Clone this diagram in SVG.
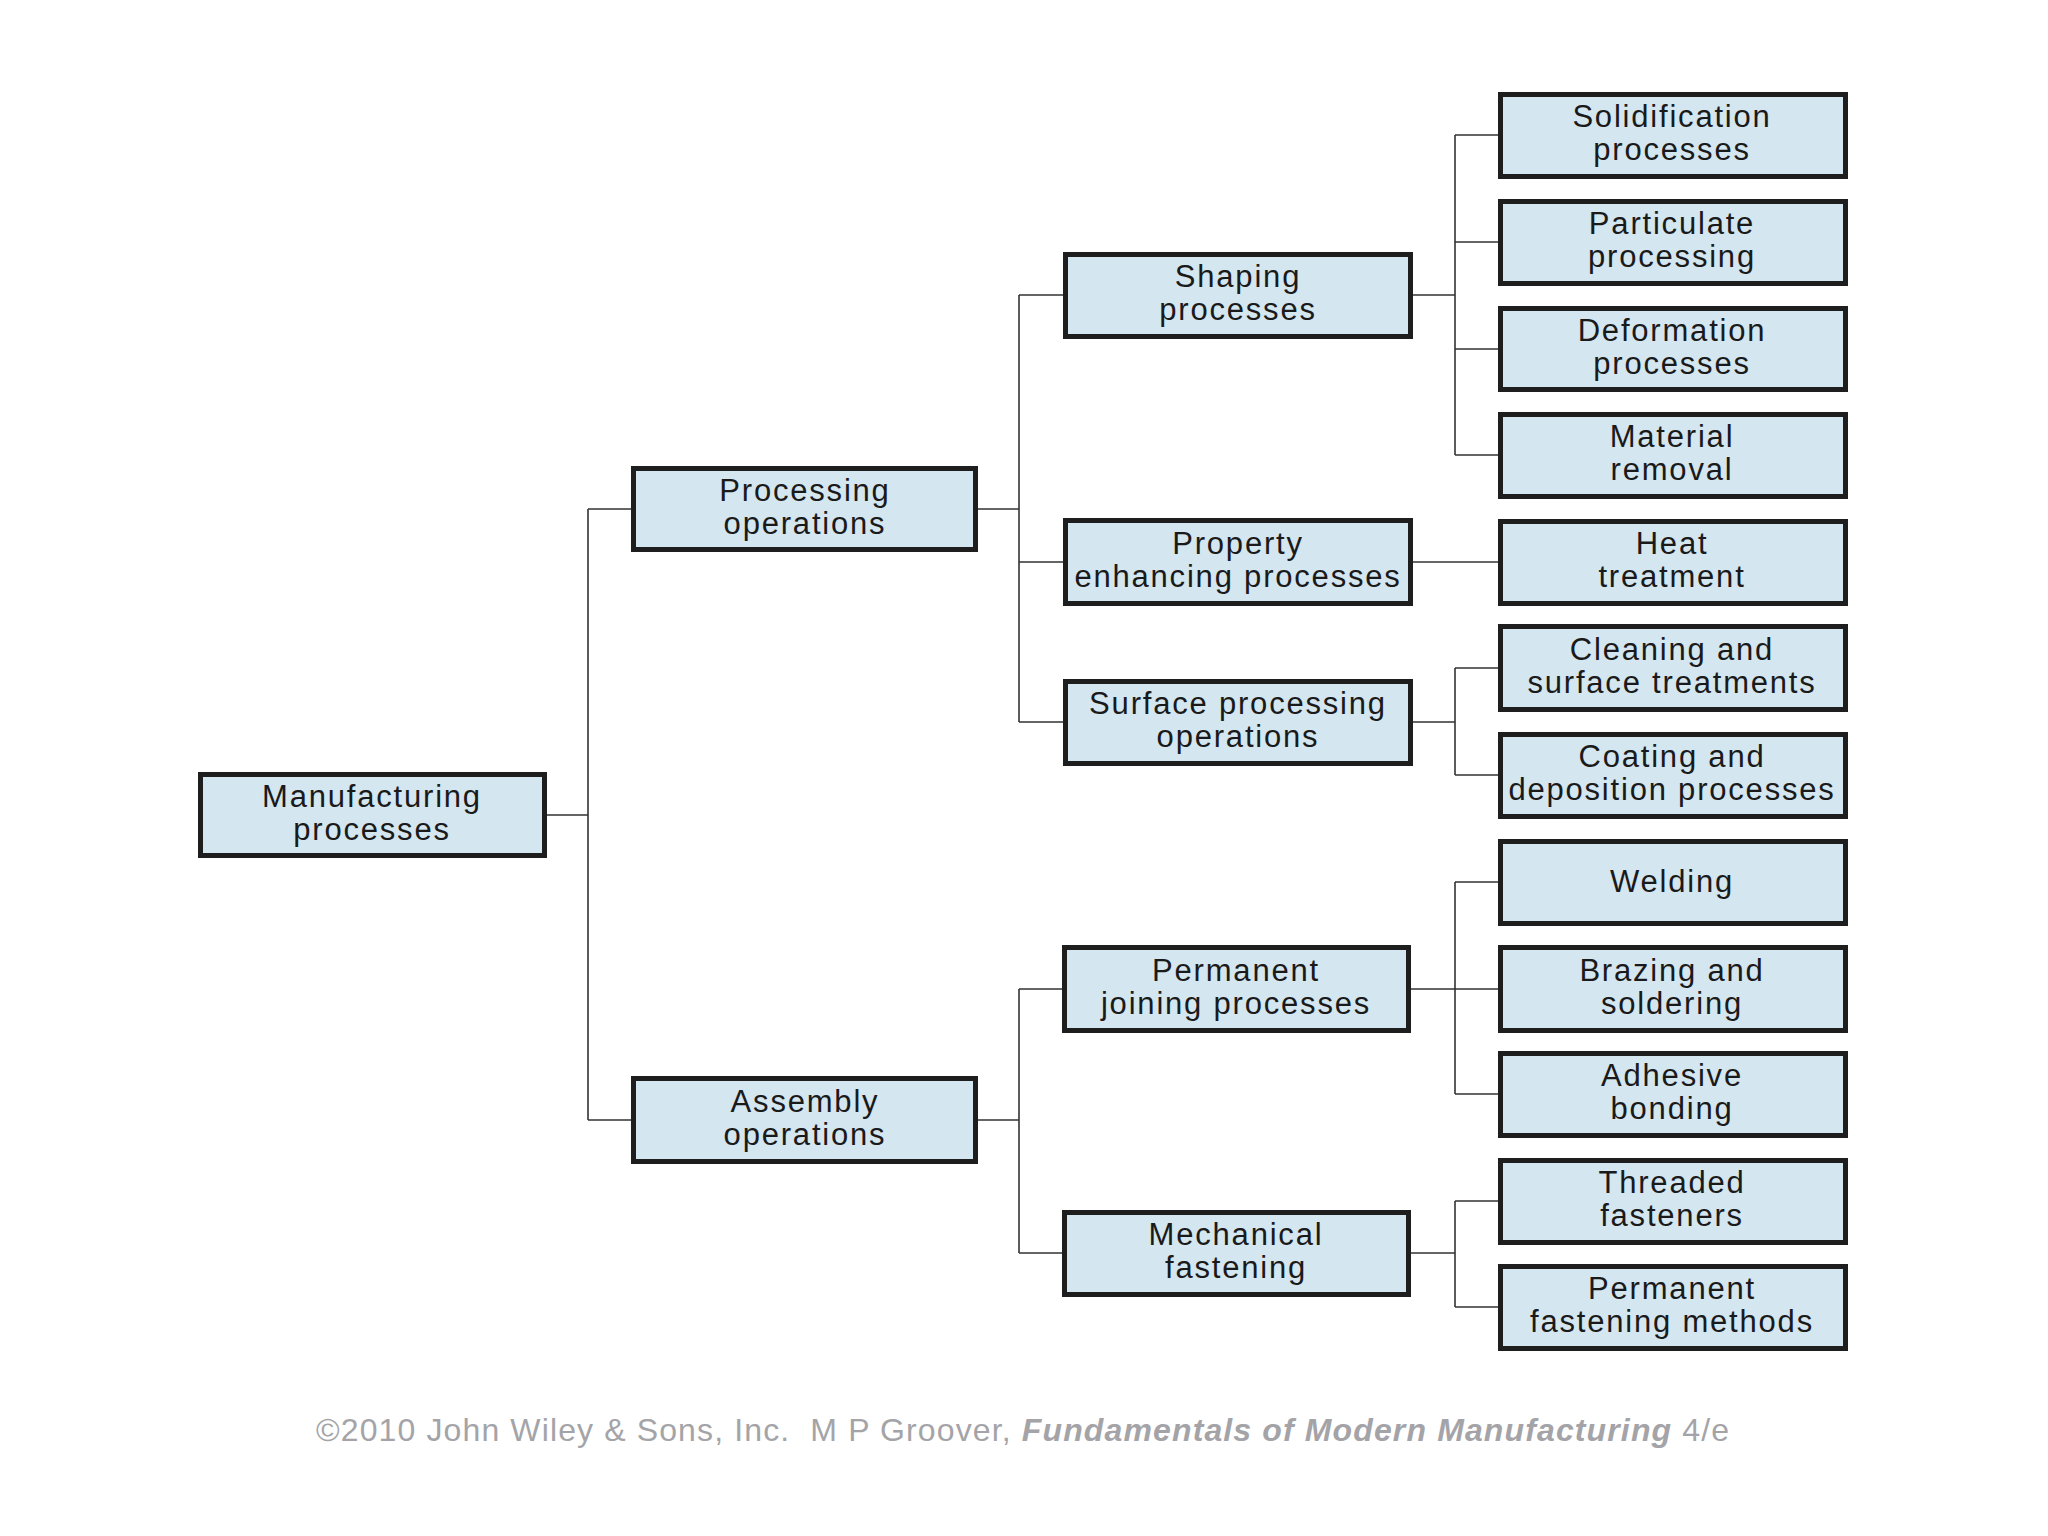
<svg xmlns="http://www.w3.org/2000/svg" width="2048" height="1536" viewBox="0 0 2048 1536">
<style>
.box{fill:#d4e6f0;stroke:#1e1e1e;stroke-width:5}
.t{font-family:"Liberation Sans",Arial,sans-serif;font-size:31px;fill:#1a1a1a;text-anchor:middle;letter-spacing:1.8px}
.c{fill:none;stroke:#333;stroke-width:1.6}
.f{font-family:"Liberation Sans",Arial,sans-serif;font-size:32px;fill:#a4a4a8}
</style>
<rect width="2048" height="1536" fill="#ffffff"/>
<g id="connectors">
<path class="c" d="M547,815H588M588,509V1120M588,509H631M588,1120H631"/>
<path class="c" d="M978,509H1019M1019,295V722M1019,295H1063M1019,562H1063M1019,722H1063"/>
<path class="c" d="M978,1120H1019M1019,989V1253M1019,989H1062M1019,1253H1062"/>
<path class="c" d="M1413,295H1455M1455,135V455M1455,135H1498M1455,242H1498M1455,349H1498M1455,455H1498"/>
<path class="c" d="M1413,562H1498"/>
<path class="c" d="M1413,722H1455M1455,668V775M1455,668H1498M1455,775H1498"/>
<path class="c" d="M1411,989H1455M1455,882V1094M1455,882H1498M1455,989H1498M1455,1094H1498"/>
<path class="c" d="M1411,1253H1455M1455,1201V1307M1455,1201H1498M1455,1307H1498"/>
</g>
<g id="n-manufacturing"><rect class="box" x="200.5" y="774.5" width="344" height="81"/><text class="t" x="372" y="807">Manufacturing</text><text class="t" x="372" y="840">processes</text></g>
<g id="n-processing"><rect class="box" x="633.5" y="468.5" width="342" height="81"/><text class="t" x="805" y="501">Processing</text><text class="t" x="805" y="534">operations</text></g>
<g id="n-assembly"><rect class="box" x="633.5" y="1078.5" width="342" height="83"/><text class="t" x="805" y="1112">Assembly</text><text class="t" x="805" y="1145">operations</text></g>
<g id="n-shaping"><rect class="box" x="1065.5" y="254.5" width="345" height="82"/><text class="t" x="1238" y="287">Shaping</text><text class="t" x="1238" y="320">processes</text></g>
<g id="n-property"><rect class="box" x="1065.5" y="520.5" width="345" height="83"/><text class="t" x="1238" y="554">Property</text><text class="t" x="1238" y="587">enhancing processes</text></g>
<g id="n-surface"><rect class="box" x="1065.5" y="681.5" width="345" height="82"/><text class="t" x="1238" y="714">Surface processing</text><text class="t" x="1238" y="747">operations</text></g>
<g id="n-permjoin"><rect class="box" x="1064.5" y="947.5" width="344" height="83"/><text class="t" x="1236" y="981">Permanent</text><text class="t" x="1236" y="1014">joining processes</text></g>
<g id="n-mechanical"><rect class="box" x="1064.5" y="1212.5" width="344" height="82"/><text class="t" x="1236" y="1245">Mechanical</text><text class="t" x="1236" y="1278">fastening</text></g>
<g id="n-solidification"><rect class="box" x="1500.5" y="94.5" width="345" height="82"/><text class="t" x="1672" y="127">Solidification</text><text class="t" x="1672" y="160">processes</text></g>
<g id="n-particulate"><rect class="box" x="1500.5" y="201.5" width="345" height="82"/><text class="t" x="1672" y="234">Particulate</text><text class="t" x="1672" y="267">processing</text></g>
<g id="n-deformation"><rect class="box" x="1500.5" y="308.5" width="345" height="81"/><text class="t" x="1672" y="341">Deformation</text><text class="t" x="1672" y="374">processes</text></g>
<g id="n-material"><rect class="box" x="1500.5" y="414.5" width="345" height="82"/><text class="t" x="1672" y="447">Material</text><text class="t" x="1672" y="480">removal</text></g>
<g id="n-heat"><rect class="box" x="1500.5" y="521.5" width="345" height="82"/><text class="t" x="1672" y="554">Heat</text><text class="t" x="1672" y="587">treatment</text></g>
<g id="n-cleaning"><rect class="box" x="1500.5" y="626.5" width="345" height="83"/><text class="t" x="1672" y="660">Cleaning and</text><text class="t" x="1672" y="693">surface treatments</text></g>
<g id="n-coating"><rect class="box" x="1500.5" y="734.5" width="345" height="82"/><text class="t" x="1672" y="767">Coating and</text><text class="t" x="1672" y="800">deposition processes</text></g>
<g id="n-welding"><rect class="box" x="1500.5" y="841.5" width="345" height="82"/><text class="t" x="1672" y="892">Welding</text></g>
<g id="n-brazing"><rect class="box" x="1500.5" y="947.5" width="345" height="83"/><text class="t" x="1672" y="981">Brazing and</text><text class="t" x="1672" y="1014">soldering</text></g>
<g id="n-adhesive"><rect class="box" x="1500.5" y="1053.5" width="345" height="82"/><text class="t" x="1672" y="1086">Adhesive</text><text class="t" x="1672" y="1119">bonding</text></g>
<g id="n-threaded"><rect class="box" x="1500.5" y="1160.5" width="345" height="82"/><text class="t" x="1672" y="1193">Threaded</text><text class="t" x="1672" y="1226">fasteners</text></g>
<g id="n-permfast"><rect class="box" x="1500.5" y="1266.5" width="345" height="82"/><text class="t" x="1672" y="1299">Permanent</text><text class="t" x="1672" y="1332">fastening methods</text></g>
<text class="f" x="316" y="1441" textLength="1413" lengthAdjust="spacing" xml:space="preserve">©2010 John Wiley &amp; Sons, Inc.  M P Groover, <tspan font-weight="bold" font-style="italic">Fundamentals of Modern Manufacturing</tspan> 4/e</text>
</svg>
